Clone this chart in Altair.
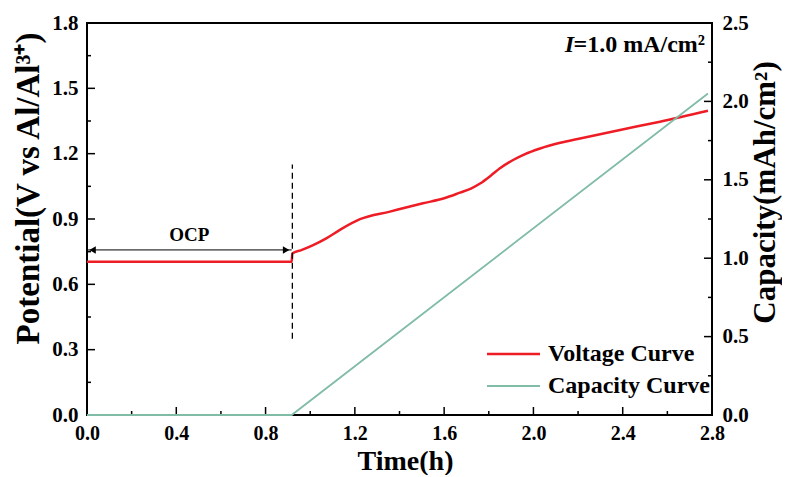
import altair as alt
import pandas as pd

# ---- data ----
time_v = [0.0, 0.917, 0.92, 0.96, 1.013, 1.07, 1.133, 1.223, 1.357, 1.505, 1.6, 1.671,
          1.72, 1.761, 1.81, 1.85, 1.909, 1.96, 2.03, 2.12, 2.209, 2.388, 2.567, 2.782]
volt = [0.704, 0.704, 0.742, 0.757, 0.78, 0.81, 0.85, 0.899, 0.934, 0.972, 0.995, 1.021,
        1.040, 1.063, 1.10, 1.133, 1.171, 1.197, 1.224, 1.25, 1.27, 1.309, 1.347, 1.397]
time_c = [0.0, 0.917, 2.782]
cap = [0.0, 0.0, 2.05]

x_major = [0.0, 0.4, 0.8, 1.2, 1.6, 2.0, 2.4, 2.8]
x_minor = [0.2, 0.6, 1.0, 1.4, 1.8, 2.2, 2.6]
v_major = [0.0, 0.3, 0.6, 0.9, 1.2, 1.5, 1.8]
v_minor = [0.15, 0.45, 0.75, 1.05, 1.35, 1.65]
c_major = [0.0, 0.5, 1.0, 1.5, 2.0, 2.5]
c_minor = [0.25, 0.75, 1.25, 1.75, 2.25]

ocp_time = [0.0, 0.917]
ocp_level = 0.758
cutoff_time = 0.92
dash_range = [0.35, 1.15]

legend_names = ["Voltage Curve", "Capacity Curve"]
colors = ["#ee1c25", "#80bca6"]

FONT = "Liberation Serif"
W, H = 625, 392

xs = alt.Scale(domain=[0, 2.8], nice=False, zero=False)
vs = alt.Scale(domain=[0, 1.8], nice=False)
cs = alt.Scale(domain=[0, 2.5], nice=False)

df_v = pd.DataFrame({"t": time_v, "v": volt})
df_c = pd.DataFrame({"t": time_c, "c": cap})

x_axis = alt.Axis(values=x_major, format=".1f", title="Time(h)", labelPadding=8,
                  labelFlush=False, titleX=318, titleY=54, titleBaseline="alphabetic",
                  titleFontSize=28, labelFontSize=20)
v_axis = alt.Axis(values=v_major, format=".1f", title="Potential(V vs Al/Al³⁺)",
                  labelPadding=9, labelFlush=False, titleAngle=270, titleX=-59, titleY=165,
                  titleBaseline="middle", titleAlign="center", titleFontSize=33)
c_axis = alt.Axis(values=c_major, format=".1f", orient="right", title="Capacity(mAh/cm²)",
                  labelPadding=10, labelFlush=False, titleAngle=270, titleX=53, titleY=169,
                  titleBaseline="middle", titleAlign="center", titleFontSize=31)

X = lambda f: alt.X(f, scale=xs, axis=x_axis)
YV = lambda f: alt.Y(f, scale=vs, axis=v_axis)
YC = lambda f: alt.Y(f, scale=cs, axis=c_axis)

# ---- voltage group ----
v_line = alt.Chart(df_v).mark_line(color=colors[0], strokeWidth=2.5, interpolate="monotone").encode(
    x=X("t:Q"), y=YV("v:Q"))

def xticks(vals, length):
    return alt.Chart(pd.DataFrame({"t": vals})).mark_rule(color="black", strokeWidth=1.5).encode(
        x=X("t:Q"), y=alt.value(H), y2=alt.value(H - length))

def vticks(vals, length):
    return alt.Chart(pd.DataFrame({"v": vals})).mark_rule(color="black", strokeWidth=1.5).encode(
        y=YV("v:Q"), x=alt.value(0), x2=alt.value(length))

def cticks(vals, length):
    return alt.Chart(pd.DataFrame({"c": vals})).mark_rule(color="black", strokeWidth=1.5).encode(
        y=YC("c:Q"), x=alt.value(W), x2=alt.value(W - length))

dash = alt.Chart(pd.DataFrame({"t": [cutoff_time], "v1": [dash_range[0]], "v2": [dash_range[1]]})).mark_rule(
    color="black", strokeWidth=1.3, strokeDash=[6, 4]).encode(
    x=X("t:Q"), y=YV("v1:Q"), y2="v2:Q")

arrow = alt.Chart(pd.DataFrame({"t1": [ocp_time[0]], "t2": [ocp_time[1]], "v": [ocp_level]})).mark_rule(
    color="black", strokeWidth=1).encode(
    x=X("t1:Q"), x2="t2:Q", y=YV("v:Q"))

head_l = alt.Chart(pd.DataFrame({"t": [ocp_time[0] + 0.025], "v": [ocp_level]})).mark_point(
    shape="triangle-left", filled=True, color="black", size=55, opacity=1).encode(
    x=X("t:Q"), y=YV("v:Q"))
head_r = alt.Chart(pd.DataFrame({"t": [ocp_time[1] - 0.025], "v": [ocp_level]})).mark_point(
    shape="triangle-right", filled=True, color="black", size=55, opacity=1).encode(
    x=X("t:Q"), y=YV("v:Q"))

ocp_text = alt.Chart(pd.DataFrame({"t": [sum(ocp_time) / 2], "v": [ocp_level + 0.005], "s": ["OCP"]})).mark_text(
    font=FONT, fontWeight="bold", fontSize=19, baseline="bottom", dy=-4, color="black").encode(
    x=X("t:Q"), y=YV("v:Q"), text="s:N")

one = pd.DataFrame({"a": [0]})
ann_rest = alt.Chart(one).mark_text(font=FONT, fontWeight="bold", fontSize=24, align="right",
                                    baseline="middle", color="black", text="=1.0 mA/cm²").encode(
    x=alt.value(618), y=alt.value(22))
ann_i = alt.Chart(one).mark_text(font=FONT, fontWeight="bold", fontStyle="italic", fontSize=24,
                                 align="right", baseline="middle", color="black", text="I").encode(
    x=alt.value(487), y=alt.value(22))

legend_layers = []
for i, (name, col) in enumerate(zip(legend_names, colors)):
    yy = 331 + i * 32
    legend_layers.append(alt.Chart(one).mark_rule(color=col, strokeWidth=2.5 if i == 0 else 2).encode(
        x=alt.value(400), x2=alt.value(453), y=alt.value(yy)))
    legend_layers.append(alt.Chart(one).mark_text(font=FONT, fontWeight="bold", fontSize=24, align="left",
                                                  baseline="middle", color="black", text=name).encode(
        x=alt.value(461), y=alt.value(yy)))

volt_group = alt.layer(v_line, xticks(x_major, 8), xticks(x_minor, 4), vticks(v_major, 8),
                       vticks(v_minor, 4), dash, arrow, head_l, head_r, ocp_text, ann_rest, ann_i,
                       *legend_layers)

# ---- capacity group ----
c_line = alt.Chart(df_c).mark_line(color=colors[1], strokeWidth=1.8).encode(
    x=X("t:Q"), y=YC("c:Q"))
cap_group = alt.layer(c_line, cticks(c_major, 8), cticks(c_minor, 4))

chart = alt.layer(volt_group, cap_group).resolve_scale(y="independent").properties(
    width=W, height=H,
    autosize=alt.AutoSizeParams(type="none"),
    padding={"left": 79, "top": 15, "right": 70, "bottom": 60},
).configure_view(stroke="black", strokeWidth=2).configure_axis(
    labelFont=FONT, labelFontWeight="bold", labelFontSize=21, labelColor="black",
    titleFont=FONT, titleFontWeight="bold", titleFontSize=28, titleColor="black",
    grid=False, domain=False, ticks=False,
)

chart.save("out.html", embed_options={"renderer": "svg", "actions": False})
